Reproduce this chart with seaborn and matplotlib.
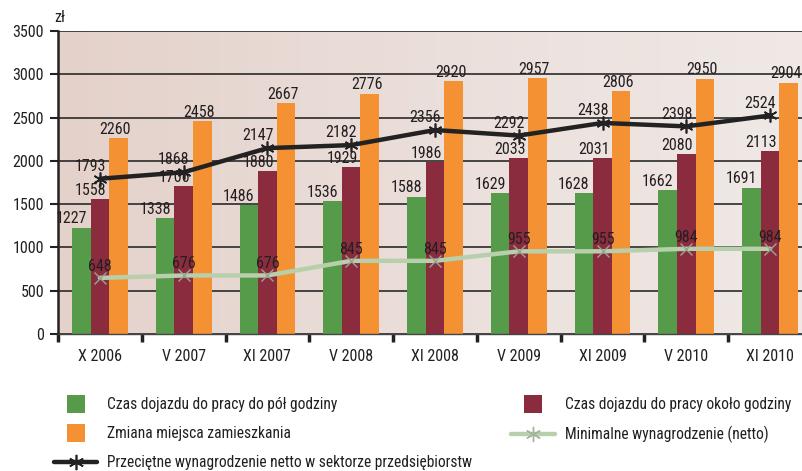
import numpy as np
import pandas as pd
import matplotlib
matplotlib.use('Agg')
import matplotlib.pyplot as plt
from matplotlib import font_manager
from matplotlib.colors import LinearSegmentedColormap
from matplotlib.lines import Line2D
import seaborn as sns

categories = ['X 2006', 'V 2007', 'XI 2007', 'V 2008', 'XI 2008',
              'V 2009', 'XI 2009', 'V 2010', 'XI 2010']
half_hour = [1227, 1338, 1486, 1536, 1588, 1629, 1628, 1662, 1691]
one_hour = [1558, 1706, 1880, 1929, 1986, 2033, 2031, 2080, 2113]
relocation = [2260, 2458, 2667, 2776, 2920, 2957, 2806, 2950, 2904]
avg_wage = [1793, 1868, 2147, 2182, 2356, 2292, 2438, 2398, 2524]
min_wage = [648, 676, 676, 845, 845, 955, 955, 984, 984]

series_names = ['Czas dojazdu do pracy do pół godziny',
                'Czas dojazdu do pracy około godziny',
                'Zmiana miejsca zamieszkania']
line_names = ['Przeciętne wynagrodzenie netto w sektorze przedsiębiorstw',
              'Minimalne wynagrodzenie (netto)']
colors = ['#559b4a', '#8b2b3e', '#f49133']

sns.set_theme(style='white')

# look for a narrow sans font, otherwise fall back to a regular one
names = {f.name for f in font_manager.fontManager.ttflist}
narrow = None
for cand in ['Liberation Sans Narrow', 'Roboto Condensed', 'Open Sans Condensed',
             'DejaVu Sans Condensed', 'Noto Sans Condensed']:
    if cand in names:
        narrow = cand
        break
if narrow is None:
    plt.rcParams['font.family'] = ['Liberation Sans', 'DejaVu Sans']
    num_fs, leg_fs = 10.0, 9.0
else:
    plt.rcParams['font.family'] = [narrow, 'DejaVu Sans']
    num_fs, leg_fs = 11.5, 11.2
txt = '#231f20'

df = pd.DataFrame({
    'okres': categories * 3,
    'seria': np.repeat(series_names, len(categories)),
    'wartosc': half_hour + one_hour + relocation,
})

fig = plt.figure(figsize=(8.03, 4.71), dpi=100)
ax = fig.add_axes([0.0722, 0.2909, 0.939, 0.6433])

# background gradient
bg = LinearSegmentedColormap.from_list('bg', ['#e4d1ca', '#ebdfdb', '#f0e9e6'])
ax.imshow(np.linspace(0, 1, 256).reshape(1, -1), cmap=bg, aspect='auto',
          extent=[-0.5, 8.5, 0, 3500], zorder=0)

sns.barplot(data=df, x='okres', y='wartosc', hue='seria', palette=colors,
            width=0.665, gap=0, dodge=True, saturation=1, legend=False,
            linewidth=0, edgecolor='none', ax=ax, zorder=2)

x = np.arange(len(categories))
sns.lineplot(x=x, y=min_wage, color='#b8cfac', linewidth=3.2, ax=ax,
             zorder=3, marker='x', markersize=8, markeredgecolor='#9aa596',
             markeredgewidth=1.0)
sns.lineplot(x=x, y=avg_wage, color='#222222', linewidth=3.2, ax=ax,
             zorder=4, marker=(6, 2, 0), markersize=10,
             markeredgecolor='#222222', markeredgewidth=1.2)

# bar labels
offsets = [-10, -9, -3]
for cont, off in zip(ax.containers, offsets):
    for rect in cont:
        h = rect.get_height()
        ax.annotate(f'{int(h)}', (rect.get_x() + rect.get_width() / 2, h),
                    xytext=(off * 0.72, 1), textcoords='offset points',
                    ha='center', va='bottom', fontsize=num_fs, color=txt, zorder=5)

for xi, v in zip(x, avg_wage):
    ax.annotate(f'{v}', (xi, v), xytext=(-7, 3.5), textcoords='offset points',
                ha='center', va='bottom', fontsize=num_fs, color=txt, zorder=5)
for xi, v in zip(x, min_wage):
    ax.annotate(f'{v}', (xi, v), xytext=(0, 3), textcoords='offset points',
                ha='center', va='bottom', fontsize=num_fs, color=txt, zorder=5)

ax.set_xlim(-0.5, 8.5)
ax.set_ylim(0, 3500)
ax.set_yticks(range(0, 3501, 500))
ax.set_yticklabels([str(v) for v in range(0, 3501, 500)], fontsize=num_fs, color=txt)
ax.yaxis.grid(True, color='#2a2a2a', linewidth=1.2)
ax.set_axisbelow(True)
ax.tick_params(axis='y', which='major', length=6, width=1.5, color='#222222', pad=4, left=True)
ax.set_xticks(x)
ax.set_xticklabels(categories, fontsize=num_fs, color=txt)
ax.set_xticks(np.arange(-0.5, 8.6, 1), minor=True)
ax.tick_params(axis='x', which='major', length=0, pad=11)
ax.tick_params(axis='x', which='minor', length=6, width=2.5, color='#222222', bottom=True)
ax.set_xlabel('')
ax.set_ylabel('')
for s in ['top', 'right']:
    ax.spines[s].set_visible(False)
ax.spines['left'].set_color('#222222')
ax.spines['left'].set_linewidth(1.8)
ax.spines['bottom'].set_color('#444444')
ax.spines['bottom'].set_linewidth(1.0)

fig.text(0.068, 0.947, 'zł', fontsize=num_fs, color=txt, va='bottom')

handles = [
    Line2D([], [], linestyle='none', marker='s', markersize=13,
           markerfacecolor=colors[0], markeredgewidth=0),
    Line2D([], [], linestyle='none', marker='s', markersize=13,
           markerfacecolor=colors[2], markeredgewidth=0),
    Line2D([], [], color='#222222', linewidth=3.2, marker=(6, 2, 0),
           markersize=11, markeredgewidth=1.2),
    Line2D([], [], linestyle='none', marker='s', markersize=13,
           markerfacecolor=colors[1], markeredgewidth=0),
    Line2D([], [], color='#b8cfac', linewidth=3.2, marker=(6, 2, 0), markersize=11,
           markeredgecolor='#a3b49c', markeredgewidth=1.0),
]
labels = [series_names[0], series_names[2], line_names[0],
          series_names[1], line_names[1]]
fig.legend(handles, labels, ncol=2, loc='upper left',
           bbox_to_anchor=(0.067, 0.157), frameon=False, fontsize=leg_fs,
           handlelength=2.8, handletextpad=0.65, columnspacing=2.5,
           labelspacing=0.9, labelcolor=txt, borderaxespad=0, borderpad=0)

fig.savefig('out.png', dpi=100)
